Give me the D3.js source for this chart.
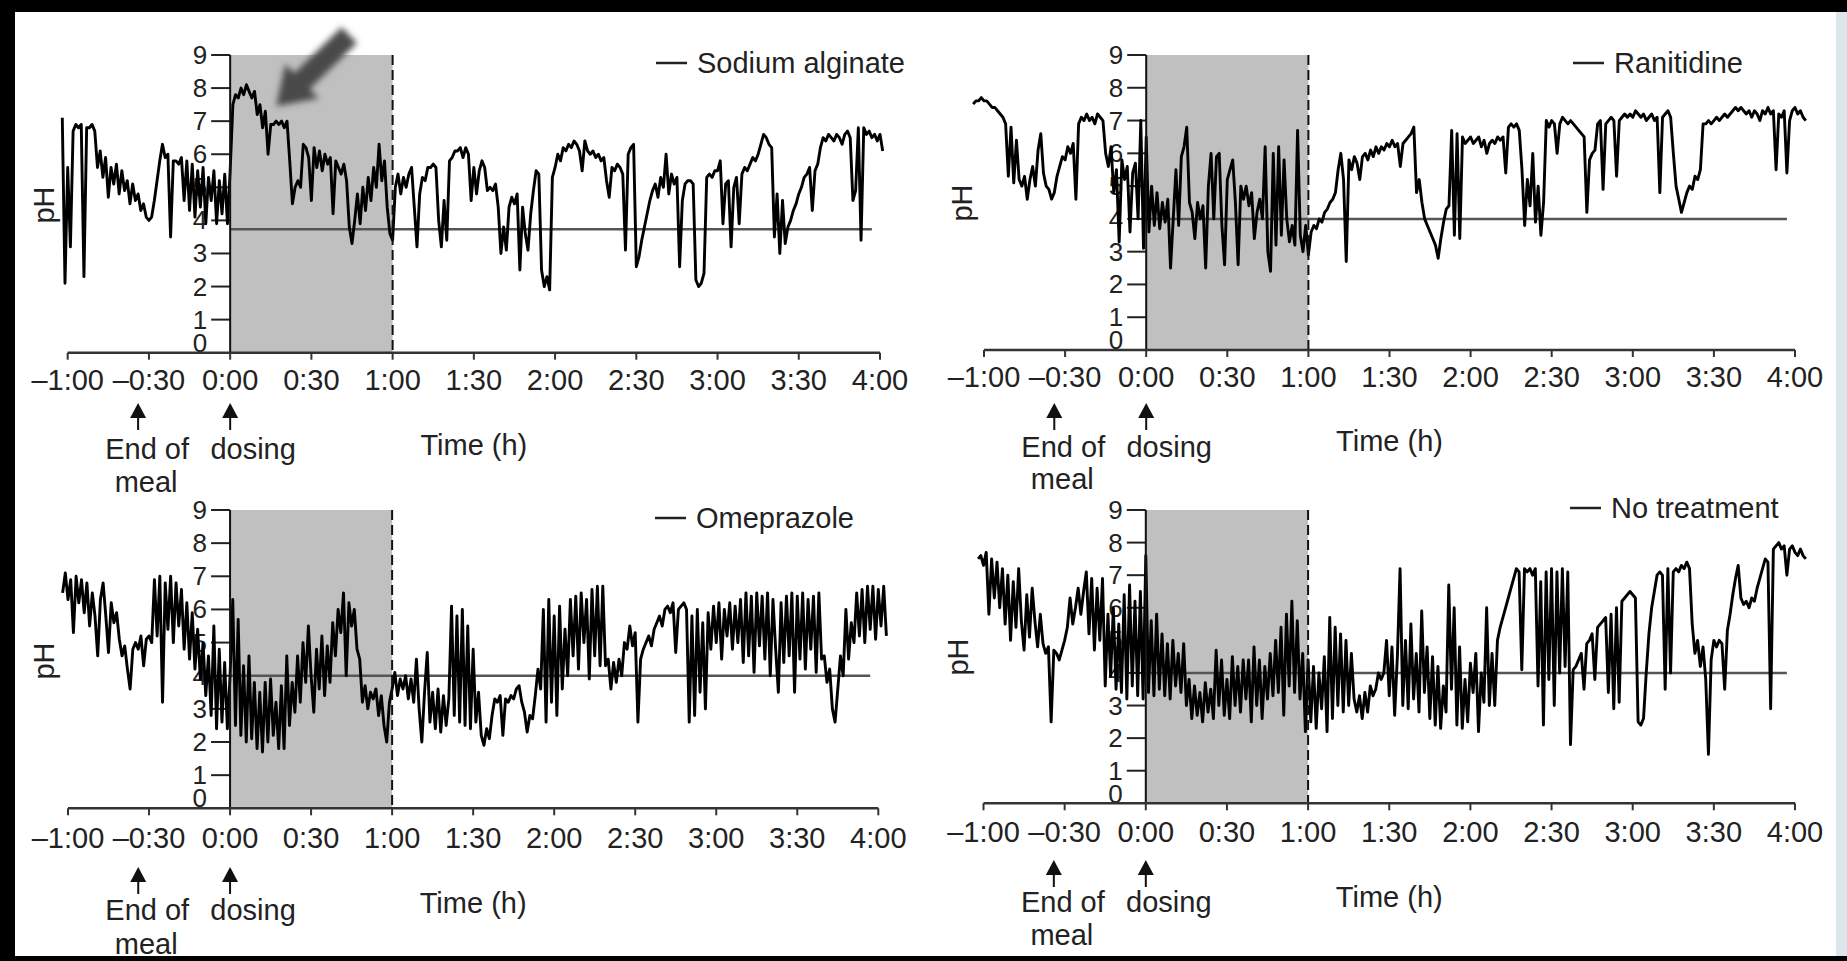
<!DOCTYPE html>
<html>
<head>
<meta charset="utf-8">
<script src="https://cdn.jsdelivr.net/npm/d3@7"></script>
<style>
  html, body { margin: 0; padding: 0; background: #fff; }
  svg { display: block; font-family: "Liberation Sans", Arial, sans-serif; }
</style>
</head>
<body>
<svg width="1847" height="961"></svg>
<script>
// time ticks (minutes from dosing) and their labels
const tickMinutes = [-60, -30, 0, 30, 60, 90, 120, 150, 180, 210, 240];
const tickLabels = ["\u20131:00", "\u20130:30", "0:00", "0:30", "1:00", "1:30", "2:00", "2:30", "3:00", "3:30", "4:00"];
const phTicks = [0, 1, 2, 3, 4, 5, 6, 7, 8, 9];
const treatments = ["Sodium alginate", "Ranitidine", "Omeprazole", "No treatment"];
const refLevels = [3.73, 4, 4, 4];
const mealEnd = -34, dosing = 0, shadeEnd = 60, refEnd = 237;

// pH traces, one value per minute starting at the given minute
const sodiumStart = -62;
const sodiumPH = [
  7.1, 2.1, 5.6, 3.2, 6.7, 6.9, 6.8, 6.9, 2.3, 6.8,
  6.8, 6.9, 6.7, 5.6, 6.1, 5.3, 5.9, 4.7, 5.6, 5.1,
  5.7, 4.8, 5.5, 4.9, 5.2, 4.5, 5.1, 4.6, 4.8, 4.3,
  4.5, 4.1, 4.0, 4.1, 4.6, 5.2, 5.8, 6.3, 5.9, 6.0,
  3.5, 5.8, 5.8, 5.7, 5.9, 4.6, 5.8, 4.3, 5.7, 4.1,
  5.5, 4.4, 5.6, 3.9, 5.3, 4.6, 5.5, 3.9, 5.2, 4.2,
  5.4, 3.9, 5.5, 7.5, 7.8, 7.7, 8.0, 7.8, 8.1, 7.9,
  7.7, 7.9, 7.2, 7.5, 6.8, 7.3, 6.0, 6.9, 6.9, 7.0,
  6.9, 7.0, 6.8, 7.0, 5.8, 4.5, 5.0, 5.2, 5.0, 6.3,
  6.2, 5.9, 4.6, 6.2, 5.6, 6.1, 5.5, 6.0, 5.7, 5.9,
  4.2, 5.8, 5.6, 5.4, 5.7, 5.2, 3.8, 3.3, 4.0, 4.8,
  3.9, 5.0, 4.3, 5.3, 4.6, 5.6, 5.0, 6.3, 5.2, 5.8,
  4.4, 3.6, 3.4, 5.0, 5.4, 4.8, 5.3, 5.0, 5.4, 5.6,
  4.4, 3.2, 4.8, 5.3, 5.2, 5.6, 5.6, 5.7, 5.6, 4.0,
  3.2, 4.6, 3.4, 5.8, 5.9, 6.1, 6.1, 6.2, 5.9, 6.2,
  6.0, 4.6, 5.6, 4.8, 5.5, 5.8, 5.6, 4.9, 5.0, 4.9,
  5.1, 4.4, 3.0, 3.8, 3.1, 4.4, 4.7, 4.5, 4.8, 2.5,
  4.4, 3.6, 3.1, 4.2, 4.9, 5.5, 5.4, 2.5, 2.0, 2.3,
  1.9, 5.3, 5.6, 6.0, 5.8, 6.2, 6.1, 6.3, 6.2, 6.4,
  6.3, 6.1, 5.5, 6.4, 6.1, 6.0, 6.1, 5.9, 6.0, 5.8,
  5.9, 5.2, 4.7, 5.6, 5.5, 5.7, 5.6, 5.4, 3.1, 6.0,
  6.2, 6.3, 2.6, 2.9, 3.4, 3.8, 4.2, 4.6, 4.9, 5.1,
  4.7, 5.3, 5.0, 6.0, 4.8, 5.4, 5.1, 5.3, 2.6, 4.6,
  5.1, 5.2, 5.2, 5.1, 2.2, 2.0, 2.1, 2.4, 5.3, 5.4,
  5.3, 5.5, 5.5, 5.8, 3.9, 5.1, 5.2, 3.2, 5.0, 5.3,
  3.9, 5.4, 5.6, 5.5, 5.7, 5.9, 5.8, 6.0, 6.3, 6.6,
  6.5, 6.3, 6.2, 3.5, 4.8, 3.0, 4.6, 3.3, 3.8, 4.0,
  4.3, 4.5, 4.8, 5.0, 5.3, 5.4, 5.6, 4.3, 5.5, 5.7,
  6.2, 6.5, 6.4, 6.6, 6.5, 6.4, 6.6, 6.5, 6.3, 6.6,
  6.7, 6.5, 4.6, 4.9, 6.8, 3.4, 6.8, 6.6, 6.7, 6.5,
  6.6, 6.4, 6.6, 6.1
];

const ranitidineStart = -64;
const ranitidinePH = [
  7.5, 7.6, 7.6, 7.7, 7.6, 7.6, 7.5, 7.4, 7.4, 7.3,
  7.2, 7.1, 6.9, 5.3, 6.8, 5.1, 6.4, 5.2, 5.0, 5.3,
  4.6, 5.2, 5.6, 5.0, 6.1, 6.6, 5.4, 5.0, 4.9, 4.6,
  4.8, 5.3, 5.6, 5.9, 5.8, 6.2, 6.0, 6.3, 4.6, 6.9,
  7.1, 7.0, 7.2, 7.0, 7.1, 6.9, 7.2, 7.1, 7.0, 6.0,
  5.6, 6.2, 4.8, 5.5, 3.3, 5.8, 5.2, 5.6, 3.6, 5.4,
  5.7, 4.0, 7.0, 3.1, 6.5, 3.6, 5.0, 3.8, 4.8, 3.7,
  4.5, 3.9, 4.6, 2.5, 4.0, 5.5, 3.8, 5.9, 6.2, 6.8,
  4.5, 4.2, 3.4, 4.5, 4.0, 4.4, 2.5, 5.0, 6.0, 4.0,
  5.9, 6.0, 3.8, 2.6, 5.2, 5.5, 5.8, 4.5, 2.6, 5.0,
  4.6, 5.0, 4.4, 4.8, 3.4, 4.2, 4.6, 4.0, 6.2, 3.0,
  2.4, 6.0, 3.2, 6.2, 3.5, 5.8, 4.0, 3.3, 3.8, 3.2,
  6.7, 3.5, 3.0, 3.8, 2.9, 3.6, 3.8, 3.7, 4.0, 3.9,
  4.2, 4.3, 4.5, 4.6, 4.8, 5.5, 6.0, 5.2, 2.7, 5.8,
  5.5, 5.9, 5.7, 5.2, 5.9, 6.0, 5.8, 6.1, 5.9, 6.2,
  6.0, 6.2, 6.1, 6.3, 6.2, 6.4, 6.2, 6.3, 5.6, 6.3,
  6.4, 6.5, 6.6, 6.8, 4.8, 5.2, 4.5, 4.0, 3.8, 3.6,
  3.4, 3.2, 2.8, 3.4, 3.9, 4.3, 4.4, 6.7, 3.5, 6.6,
  3.4, 6.5, 6.3, 6.4, 6.5, 6.3, 6.4, 6.5, 6.2, 6.4,
  6.0, 6.3, 6.4, 6.3, 6.5, 6.4, 6.5, 5.4, 6.8, 6.9,
  6.8, 6.9, 6.7, 5.5, 3.8, 5.2, 4.4, 6.0, 3.9, 5.0,
  3.5, 4.5, 7.0, 6.8, 7.0, 6.9, 6.0, 6.9, 7.1, 7.0,
  6.9, 7.0, 6.9, 6.8, 6.7, 6.6, 6.5, 4.2, 5.8, 6.0,
  6.1, 6.9, 7.0, 4.9, 6.9, 7.0, 7.1, 7.0, 5.3, 7.0,
  7.1, 7.2, 7.1, 7.2, 7.1, 7.3, 7.2, 7.1, 7.2, 7.0,
  7.1, 7.2, 7.0, 7.1, 4.8, 7.1, 7.2, 7.3, 7.1, 6.0,
  5.0, 4.6, 4.2, 4.5, 4.8, 5.0, 4.9, 5.3, 5.2, 5.5,
  6.9, 6.9, 7.0, 6.9, 7.0, 7.1, 7.0, 7.1, 7.2, 7.1,
  7.2, 7.3, 7.4, 7.3, 7.4, 7.3, 7.2, 7.3, 7.1, 7.3,
  7.2, 7.0, 7.3, 7.2, 7.4, 7.2, 7.3, 5.5, 7.2, 7.1,
  7.3, 5.4, 7.0, 7.3, 7.4, 7.2, 7.3, 7.1, 7.0
];

const omeprazoleStart = -62;
const omeprazolePH = [
  6.5, 7.1, 6.3, 6.9, 5.3, 7.0, 6.2, 6.9, 5.9, 6.8,
  5.5, 6.5, 5.8, 4.6, 6.3, 6.8, 5.8, 4.7, 6.2, 5.6,
  5.9, 5.1, 4.6, 4.9, 4.2, 3.6, 4.8, 5.0, 4.8, 5.2,
  4.3, 5.1, 5.2, 5.0, 6.9, 5.2, 7.0, 3.2, 6.8, 5.4,
  7.0, 5.0, 6.8, 5.5, 6.6, 4.8, 6.2, 4.5, 5.9, 4.2,
  5.4, 3.9, 5.0, 3.4, 4.6, 2.8, 5.5, 2.4, 4.8, 2.6,
  4.4, 2.4, 4.0, 6.3, 2.5, 5.7, 2.2, 4.3, 2.0, 4.6,
  2.1, 3.8, 1.8, 3.5, 1.7, 3.8, 2.0, 3.9, 2.2, 3.2,
  1.8, 3.7, 1.8, 4.6, 2.5, 3.8, 2.9, 4.6, 3.2, 5.0,
  3.8, 5.5, 4.0, 2.9, 4.8, 3.6, 5.2, 3.4, 4.9, 3.8,
  5.6, 4.6, 6.0, 5.3, 6.5, 4.0, 6.2, 5.5, 6.0, 4.8,
  4.5, 3.2, 3.7, 3.0, 3.5, 3.3, 3.6, 2.8, 3.4, 2.5,
  2.0, 3.2, 3.6, 4.1, 3.4, 3.9, 3.6, 4.0, 3.3, 3.9,
  3.2, 4.5, 3.0, 2.0, 3.5, 4.7, 2.6, 3.5, 2.4, 3.6,
  2.3, 3.4, 2.5, 3.3, 6.1, 2.8, 5.8, 2.6, 6.0, 2.5,
  5.5, 2.4, 4.8, 2.6, 3.5, 2.2, 1.9, 2.4, 2.1, 2.8,
  3.3, 3.2, 3.4, 2.2, 3.3, 3.2, 3.4, 3.3, 3.6, 3.7,
  3.2, 2.9, 2.3, 2.8, 2.7, 3.4, 4.2, 3.6, 6.0, 2.6,
  6.3, 3.2, 5.8, 2.8, 6.1, 3.6, 5.4, 4.0, 6.3, 4.6,
  6.4, 4.2, 6.5, 5.0, 6.3, 3.9, 6.6, 4.6, 6.7, 4.3,
  6.7, 4.3, 4.5, 3.6, 4.4, 3.8, 4.5, 4.0, 5.0, 4.8,
  5.5, 4.9, 5.3, 2.6, 4.5, 4.8, 5.0, 5.2, 4.9, 5.4,
  5.6, 5.8, 5.5, 6.0, 6.1, 5.9, 6.2, 4.7, 6.0, 6.1,
  6.2, 6.0, 2.6, 5.8, 2.8, 6.0, 3.5, 5.6, 3.0, 5.9,
  4.8, 6.1, 5.0, 6.2, 4.5, 6.0, 5.2, 6.2, 4.8, 6.1,
  5.0, 6.3, 4.4, 6.5, 4.6, 6.4, 4.1, 6.5, 4.9, 6.4,
  4.5, 6.5, 4.0, 6.3, 4.8, 3.5, 6.2, 4.4, 6.4, 4.6,
  6.5, 3.5, 6.4, 4.5, 6.5, 4.2, 6.3, 4.8, 6.4, 4.1,
  6.5, 4.5, 4.6, 3.8, 4.2, 3.0, 2.6, 3.6, 4.6, 4.0,
  6.0, 4.5, 5.6, 5.0, 6.5, 5.2, 6.6, 5.0, 6.7, 5.4,
  6.7, 5.1, 6.6, 5.5, 6.7, 5.2
];

const noTreatStart = -62;
const noTreatPH = [
  7.5, 7.6, 7.3, 7.7, 5.8, 7.5, 6.3, 7.4, 6.0, 7.2,
  5.5, 7.0, 5.0, 6.8, 5.4, 7.2, 5.6, 4.7, 6.4, 5.1,
  6.6, 5.6, 4.8, 5.8, 4.9, 4.6, 4.8, 2.5, 4.7, 4.6,
  4.4, 4.7, 5.0, 5.4, 6.3, 5.5, 6.0, 6.6, 5.8, 6.5,
  7.1, 5.2, 6.9, 4.7, 6.6, 5.0, 6.9, 3.6, 5.8, 3.9,
  6.0, 3.5, 5.5, 3.4, 6.4, 3.2, 6.7, 3.6, 6.2, 3.3,
  6.5, 3.2, 7.6, 3.4, 5.6, 3.3, 5.8, 3.5, 5.2, 3.3,
  4.9, 3.2, 5.0, 3.6, 4.6, 3.4, 4.9, 3.0, 3.8, 2.6,
  3.6, 2.7, 3.4, 2.5, 3.7, 2.8, 3.5, 2.6, 4.7, 3.0,
  4.4, 2.7, 3.8, 2.6, 4.5, 3.0, 4.2, 2.8, 4.4, 3.2,
  4.4, 2.5, 4.8, 3.0, 4.4, 2.6, 4.2, 3.2, 4.6, 3.3,
  5.0, 3.4, 5.4, 2.7, 5.8, 3.6, 6.2, 3.4, 5.6, 3.2,
  4.6, 2.2, 4.4, 2.5, 4.2, 2.3, 4.0, 2.9, 4.5, 2.2,
  5.7, 2.6, 5.4, 3.0, 5.2, 2.8, 5.0, 3.0, 4.6, 3.2,
  2.8, 3.3, 2.6, 3.4, 2.8, 3.6, 3.3, 3.5, 4.0, 3.8,
  4.0, 5.0, 3.3, 4.8, 2.7, 4.5, 7.2, 3.0, 5.0, 2.9,
  5.5, 3.2, 4.6, 2.8, 5.9, 3.4, 4.8, 2.6, 4.5, 2.4,
  4.2, 2.3, 3.6, 2.8, 6.7, 3.5, 6.0, 2.4, 4.8, 2.3,
  3.8, 2.5, 4.3, 3.4, 4.6, 2.2, 4.0, 3.1, 6.0, 3.0,
  4.6, 3.0, 5.0, 5.4, 5.7, 6.0, 6.3, 6.6, 6.9, 7.2,
  7.1, 4.1, 7.2, 7.1, 7.2, 7.0, 7.2, 3.6, 6.8, 2.4,
  7.1, 3.8, 7.2, 3.0, 7.1, 4.0, 7.2, 4.2, 7.1, 1.8,
  4.1, 4.2, 4.4, 4.6, 3.5, 4.9, 5.0, 5.2, 3.8, 5.4,
  5.5, 5.6, 5.7, 3.4, 5.8, 2.9, 6.0, 3.1, 6.2, 6.3,
  6.4, 6.5, 6.4, 6.3, 2.5, 2.4, 2.6, 4.0, 5.2, 6.0,
  6.5, 7.0, 7.1, 7.0, 3.5, 7.2, 4.0, 7.1, 7.2, 7.1,
  7.3, 7.2, 7.4, 7.2, 5.5, 4.6, 5.0, 4.2, 4.8, 3.8,
  1.5, 4.4, 5.0, 4.8, 5.0, 4.9, 3.5, 5.3, 5.8, 6.4,
  6.9, 7.3, 6.3, 6.1, 6.2, 6.0, 6.3, 6.2, 6.6, 6.9,
  7.2, 7.5, 7.4, 2.9, 7.8, 7.9, 8.0, 7.8, 7.9, 7.0,
  7.8, 7.9, 7.7, 7.6, 7.8, 7.6, 7.5
];

const svg = d3.select("svg");

// page frame
svg.append("rect").attr("x", 0).attr("y", 0).attr("width", 1847).attr("height", 961).attr("fill", "#fff");
svg.append("rect").attr("x", 1836).attr("y", 0).attr("width", 11).attr("height", 961).attr("fill", "#dde6ea");
svg.append("rect").attr("x", 0).attr("y", 0).attr("width", 1847).attr("height", 12).attr("fill", "#000");
svg.append("rect").attr("x", 0).attr("y", 0).attr("width", 15).attr("height", 961).attr("fill", "#000");
svg.append("rect").attr("x", 0).attr("y", 956).attr("width", 1847).attr("height", 5).attr("fill", "#000");

const defs = svg.append("defs");
defs.append("filter").attr("id", "blur")
  .attr("x", "-50%").attr("y", "-50%").attr("width", "200%").attr("height", "200%")
  .append("feGaussianBlur").attr("stdDeviation", 3.2);

const panels = [
  {name: treatments[0], start: sodiumStart, values: sodiumPH, ref: refLevels[0],
   xl: 67.7, xr: 880, yt: 55, yb: 352.7, tickY: 390, timeY: 455, arrowTop: 403, textY: 459, mealY: 492,
   legX: 656, legY: 63, phX: 44, phY: 205, pointer: true},
  {name: treatments[1], start: ranitidineStart, values: ranitidinePH, ref: refLevels[1],
   xl: 984, xr: 1795, yt: 55, yb: 350, tickY: 387, timeY: 451, arrowTop: 403, textY: 457, mealY: 489,
   legX: 1573, legY: 63, phX: 962, phY: 203},
  {name: treatments[2], start: omeprazoleStart, values: omeprazolePH, ref: refLevels[2],
   xl: 68, xr: 878.3, yt: 510, yb: 808.3, tickY: 848, timeY: 913, arrowTop: 867, textY: 920, mealY: 954,
   legX: 655, legY: 518, phX: 44, phY: 661},
  {name: treatments[3], start: noTreatStart, values: noTreatPH, ref: refLevels[3],
   xl: 983.5, xr: 1795, yt: 510, yb: 803.3, tickY: 842, timeY: 907, arrowTop: 860, textY: 912, mealY: 945,
   legX: 1570, legY: 508, phX: 958, phY: 657}
];

panels.forEach(p => {
  const g = svg.append("g");
  const x = d3.scaleLinear().domain([-60, 240]).range([p.xl, p.xr]);
  const y = d3.scaleLinear().domain([0, 9]).range([p.yb, p.yt]);

  // shaded post-dose hour
  g.append("rect")
    .attr("x", x(dosing)).attr("y", y(9))
    .attr("width", x(shadeEnd) - x(dosing)).attr("height", y(0) - y(9))
    .attr("fill", "#c0c0c0");

  // y ticks and labels
  g.selectAll(".ytick").data(phTicks.filter(d => d > 0)).enter().append("line")
    .attr("x1", x(0) - 19).attr("x2", x(0))
    .attr("y1", d => y(d)).attr("y2", d => y(d))
    .attr("stroke", "#222").attr("stroke-width", 2);
  g.selectAll(".ylab").data(phTicks).enter().append("text")
    .attr("x", x(0) - 23)
    .attr("y", d => y(d === 0 ? 0.3 : d) + 9)
    .attr("text-anchor", "end")
    .attr("font-size", 26).attr("fill", "#222")
    .text(d => d);

  // reference line
  g.append("line")
    .attr("x1", x(0)).attr("x2", x(refEnd))
    .attr("y1", y(p.ref)).attr("y2", y(p.ref))
    .attr("stroke", "#555").attr("stroke-width", 2.5);

  // pH trace
  const line = d3.line()
    .x((d, i) => x(p.start + i))
    .y(d => y(d));
  g.append("path")
    .attr("d", line(p.values))
    .attr("fill", "none")
    .attr("stroke", "#000")
    .attr("stroke-width", 2.9)
    .attr("stroke-linejoin", "round");

  // y axis at dosing time and dashed end of shaded hour
  g.append("line")
    .attr("x1", x(0)).attr("x2", x(0)).attr("y1", y(9)).attr("y2", y(0))
    .attr("stroke", "#111").attr("stroke-width", 2);
  g.append("line")
    .attr("x1", x(shadeEnd)).attr("x2", x(shadeEnd)).attr("y1", y(9)).attr("y2", y(0))
    .attr("stroke", "#111").attr("stroke-width", 2).attr("stroke-dasharray", "10,5");

  // x axis
  g.append("line")
    .attr("x1", x(-60)).attr("x2", x(240)).attr("y1", y(0)).attr("y2", y(0))
    .attr("stroke", "#333").attr("stroke-width", 2.5);
  g.selectAll(".xtick").data(tickMinutes).enter().append("line")
    .attr("x1", d => x(d)).attr("x2", d => x(d))
    .attr("y1", y(0)).attr("y2", y(0) + 7)
    .attr("stroke", "#333").attr("stroke-width", 2);
  g.selectAll(".xlab").data(tickMinutes).enter().append("text")
    .attr("x", d => x(d)).attr("y", p.tickY)
    .attr("text-anchor", "middle")
    .attr("font-size", 29).attr("fill", "#222")
    .text((d, i) => tickLabels[i]);

  g.append("text")
    .attr("x", x(90)).attr("y", p.timeY)
    .attr("text-anchor", "middle")
    .attr("font-size", 29).attr("fill", "#222")
    .text("Time (h)");

  g.append("text")
    .attr("transform", `translate(${p.phX + 10},${p.phY}) rotate(-90)`)
    .attr("text-anchor", "middle")
    .attr("font-size", 29).attr("fill", "#222")
    .text("pH");

  // legend
  g.append("line")
    .attr("x1", p.legX).attr("x2", p.legX + 31)
    .attr("y1", p.legY).attr("y2", p.legY)
    .attr("stroke", "#222").attr("stroke-width", 2.5);
  g.append("text")
    .attr("x", p.legX + 41).attr("y", p.legY + 9.5)
    .attr("font-size", 29).attr("fill", "#222")
    .text(p.name);

  // event arrows
  [mealEnd, dosing].forEach(t => {
    const ax = x(t);
    g.append("path")
      .attr("d", `M${ax},${p.arrowTop} L${ax + 8},${p.arrowTop + 15} L${ax - 8},${p.arrowTop + 15} Z`)
      .attr("fill", "#111");
    g.append("line")
      .attr("x1", ax).attr("x2", ax)
      .attr("y1", p.arrowTop + 14).attr("y2", p.arrowTop + 27)
      .attr("stroke", "#111").attr("stroke-width", 2);
  });
  g.append("text").attr("x", x(mealEnd) + 9).attr("y", p.textY)
    .attr("text-anchor", "middle").attr("font-size", 29).attr("fill", "#222").text("End of");
  g.append("text").attr("x", x(mealEnd) + 8).attr("y", p.mealY)
    .attr("text-anchor", "middle").attr("font-size", 29).attr("fill", "#222").text("meal");
  g.append("text").attr("x", x(dosing) + 23).attr("y", p.textY)
    .attr("text-anchor", "middle").attr("font-size", 29).attr("fill", "#222").text("dosing");

  // blurred pointer arrow (sodium alginate panel)
  if (p.pointer) {
    const tail = [x(44), y(9.6)], tip = [x(17), y(7.45)];
    const dx = tip[0] - tail[0], dy = tip[1] - tail[1];
    const len = Math.hypot(dx, dy);
    const ux = dx / len, uy = dy / len, nx = -uy, ny = ux;
    const headLen = 36, shaft = 11, head = 24;
    const bx = tip[0] - ux * headLen, by = tip[1] - uy * headLen;
    const pts = [
      [tail[0] + nx * shaft, tail[1] + ny * shaft],
      [bx + nx * shaft, by + ny * shaft],
      [bx + nx * head, by + ny * head],
      tip,
      [bx - nx * head, by - ny * head],
      [bx - nx * shaft, by - ny * shaft],
      [tail[0] - nx * shaft, tail[1] - ny * shaft]
    ];
    g.append("path")
      .attr("d", "M" + pts.map(q => q.join(",")).join("L") + "Z")
      .attr("fill", "#4a4a4a")
      .attr("filter", "url(#blur)");
  }
});
</script>
</body>
</html>
